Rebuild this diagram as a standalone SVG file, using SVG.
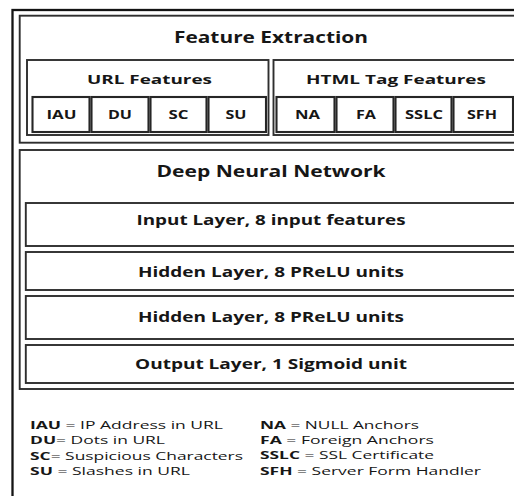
<svg xmlns="http://www.w3.org/2000/svg" width="514" height="496" viewBox="0 0 514 496">
<style>
.bx{fill:#fff;stroke:#2e2e2e;stroke-width:1.9}
.outer{fill:#fff;stroke:#141414;stroke-width:2.3}
.cell{fill:#fff;stroke:#262626;stroke-width:2.1}
text{font-family:"Open Sans","Noto Sans","Liberation Sans",sans-serif;fill:#161616}
.h{font-weight:bold;text-anchor:middle}
.lg{font-size:10.8px}
.lg tspan.b{font-weight:bold}
</style>
<rect width="514" height="496" fill="#fff"/>
<g id="frame"><rect class="outer" x="12.5" y="10" width="530" height="520"/></g>
<g id="feature-extraction">
<rect class="bx" x="19.7" y="15.7" width="520" height="127"/>
<text class="h" x="271" y="43" font-size="15.5" textLength="194" lengthAdjust="spacingAndGlyphs">Feature Extraction</text>
</g>
<g id="url-features">
<rect class="bx" x="27" y="60" width="241.5" height="75"/>
<text class="h" x="149.5" y="83.5" font-size="13" textLength="125" lengthAdjust="spacingAndGlyphs">URL Features</text>
</g>
<g id="html-features">
<rect class="bx" x="273.5" y="60" width="260" height="75"/>
<text class="h" x="396" y="83.5" font-size="13" textLength="180" lengthAdjust="spacingAndGlyphs">HTML Tag Features</text>
</g>
<g id="cell-IAU"><rect class="cell" x="32.5" y="97" width="57" height="35"/><text class="h" x="61.5" y="118.5" font-size="13" textLength="30" lengthAdjust="spacingAndGlyphs">IAU</text></g>
<g id="cell-DU"><rect class="cell" x="91.5" y="97" width="57" height="35"/><text class="h" x="120" y="118.5" font-size="13" textLength="24" lengthAdjust="spacingAndGlyphs">DU</text></g>
<g id="cell-SC"><rect class="cell" x="150.5" y="97" width="56" height="35"/><text class="h" x="178.5" y="118.5" font-size="13" textLength="20" lengthAdjust="spacingAndGlyphs">SC</text></g>
<g id="cell-SU"><rect class="cell" x="208.5" y="97" width="57.5" height="35"/><text class="h" x="236" y="118.5" font-size="13" textLength="21" lengthAdjust="spacingAndGlyphs">SU</text></g>
<g id="cell-NA"><rect class="cell" x="276.5" y="97" width="58" height="35"/><text class="h" x="307.5" y="118.5" font-size="13" textLength="25" lengthAdjust="spacingAndGlyphs">NA</text></g>
<g id="cell-FA"><rect class="cell" x="336.5" y="97" width="57" height="35"/><text class="h" x="366" y="118.5" font-size="13" textLength="20" lengthAdjust="spacingAndGlyphs">FA</text></g>
<g id="cell-SSLC"><rect class="cell" x="395.5" y="97" width="56" height="35"/><text class="h" x="424" y="118.5" font-size="13" textLength="38" lengthAdjust="spacingAndGlyphs">SSLC</text></g>
<g id="cell-SFH"><rect class="cell" x="453.5" y="97" width="59.5" height="35"/><text class="h" x="482" y="118.5" font-size="13" textLength="30" lengthAdjust="spacingAndGlyphs">SFH</text></g>
<g id="dnn">
<rect class="bx" x="19.7" y="150" width="520" height="239"/>
<text class="h" x="271" y="177" font-size="16" textLength="229" lengthAdjust="spacingAndGlyphs">Deep Neural Network</text>
</g>
<g id="input-layer"><rect class="bx" x="25.8" y="203" width="510" height="43"/><text class="h" x="271" y="225" font-size="14" textLength="269" lengthAdjust="spacingAndGlyphs">Input Layer, 8 input features</text></g>
<g id="hidden-layer-1"><rect class="bx" x="25.8" y="252" width="510" height="38"/><text class="h" x="271" y="276.5" font-size="14" textLength="266" lengthAdjust="spacingAndGlyphs">Hidden Layer, 8 PReLU units</text></g>
<g id="hidden-layer-2"><rect class="bx" x="25.8" y="296" width="510" height="43"/><text class="h" x="271" y="321.5" font-size="14" textLength="266" lengthAdjust="spacingAndGlyphs">Hidden Layer, 8 PReLU units</text></g>
<g id="output-layer"><rect class="bx" x="25.8" y="345" width="510" height="38"/><text class="h" x="271" y="369" font-size="14" textLength="272" lengthAdjust="spacingAndGlyphs">Output Layer, 1 Sigmoid unit</text></g>
<g id="legend">
<text class="lg" x="30" y="429" textLength="193" lengthAdjust="spacingAndGlyphs"><tspan class="b">IAU</tspan> = IP Address in URL</text>
<text class="lg" x="30" y="444.3" textLength="135" lengthAdjust="spacingAndGlyphs"><tspan class="b">DU</tspan>= Dots in URL</text>
<text class="lg" x="30" y="459.6" textLength="213" lengthAdjust="spacingAndGlyphs"><tspan class="b">SC</tspan>= Suspicious Characters</text>
<text class="lg" x="30" y="475" textLength="160" lengthAdjust="spacingAndGlyphs"><tspan class="b">SU</tspan> = Slashes in URL</text>
<text class="lg" x="260" y="428.6" textLength="159" lengthAdjust="spacingAndGlyphs"><tspan class="b">NA</tspan> = NULL Anchors</text>
<text class="lg" x="260" y="444" textLength="174" lengthAdjust="spacingAndGlyphs"><tspan class="b">FA</tspan> = Foreign Anchors</text>
<text class="lg" x="260" y="459.4" textLength="174" lengthAdjust="spacingAndGlyphs"><tspan class="b">SSLC</tspan> = SSL Certificate</text>
<text class="lg" x="260" y="474.8" textLength="221" lengthAdjust="spacingAndGlyphs"><tspan class="b">SFH</tspan> = Server Form Handler</text>
</g>
</svg>
